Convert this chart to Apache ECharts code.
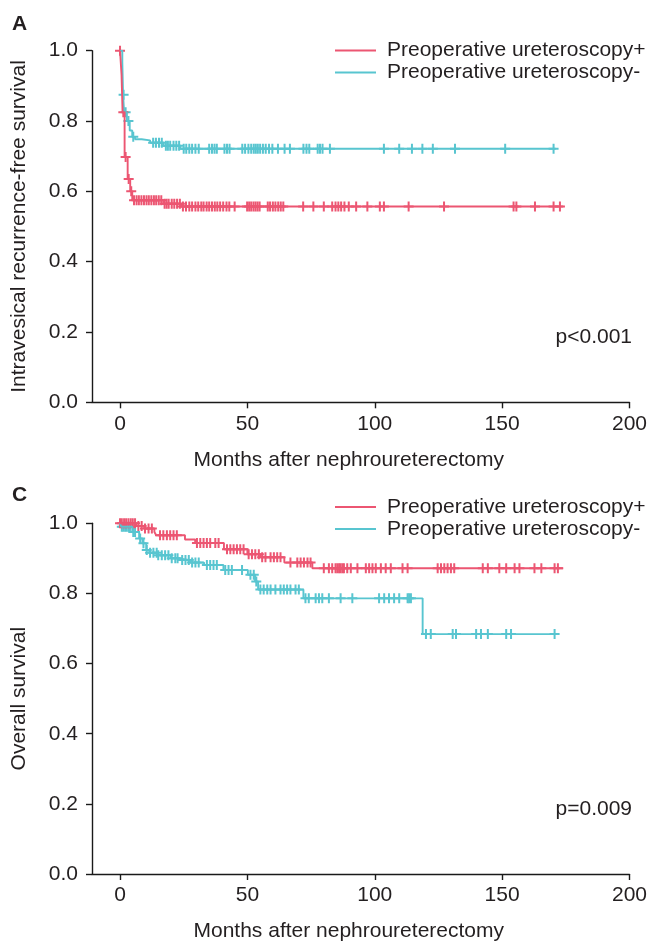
<!DOCTYPE html>
<html>
<head>
<meta charset="utf-8">
<script src="https://cdn.jsdelivr.net/npm/echarts@6/dist/echarts.min.js"></script>
<style>
html,body{margin:0;padding:0;background:#fff;}
#chart{width:650px;height:943px;}
</style>
</head>
<body>
<div id="chart"></div>
<script>
// ---------- DATA ----------
const seriesNames = ['Preoperative ureteroscopy+', 'Preoperative ureteroscopy-'];
const xTickValues = [0, 50, 100, 150, 200];
const yTickValues = [0, 0.2, 0.4, 0.6, 0.8, 1.0];

// Panel A: intravesical recurrence-free survival
const aPlusTimes = [0, 0.6, 1.0, 1.8, 3.0, 4.0, 4.8, 17, 24, 174];
const aPlusSurv  = [1.0, 0.932, 0.825, 0.698, 0.635, 0.600, 0.575, 0.565, 0.557, 0.557];
const aPlusCensor = [0, 1.3, 2.2, 3.4, 4.4, 5.5, 6.5, 7.4, 8.4, 9.4, 10.4, 11.3, 12.3, 13.3, 14.2, 15.2, 16.2,
  17.5, 18.3, 19.1, 20.3, 21.3, 22.4, 23.5, 24.7, 25.9, 27.2, 28.3, 29.6, 30.7, 31.9, 32.8, 34, 35, 36.1, 37.2,
  38.2, 39.3, 40.5, 41.8, 42.9, 45, 49.9, 50.7, 51.5, 52.4, 53.2, 54, 54.8, 58, 58.9, 60, 61, 62.1, 63.1, 64.1,
  71.9, 75.9, 80, 83.3, 84.6, 85.7, 86.8, 88.1, 89.8, 92.7, 97.1, 102, 103.6, 113.3, 127.2, 154.5, 155.6, 162.9,
  170.2, 172.7];

const aMinusTimes = [0, 0.9, 1.2, 1.6, 2.7, 3.8, 4.8, 5.9, 8.5, 11.8, 17, 23.6, 171];
const aMinusSurv  = [1.0, 0.968, 0.875, 0.825, 0.800, 0.773, 0.755, 0.748, 0.745, 0.738, 0.730, 0.721, 0.721];
const aMinusCensor = [1.4, 2.2, 3.3, 5.2, 13, 14.1, 15.3, 16.4, 18, 18.8, 19.7, 21, 22.1, 23.2, 25, 26, 27.2, 28.3,
  29.6, 30.9, 35, 36.1, 37.1, 38, 41, 42, 43, 48, 49.1, 50.4, 51.5, 52.5, 53.3, 54.1, 55, 56.1, 57.2, 58.5, 59.8,
  62, 64.6, 66.7, 72, 73.2, 74.3, 77.6, 78.5, 79.5, 82.4, 103.6, 109.6, 114.6, 118.7, 122.8, 131.5, 151.2, 170.2];

// Panel C: overall survival
const cPlusTimes = [0, 6.3, 9.5, 13.5, 14.2, 25.5, 29.5, 40.8, 50, 55.2, 64.5, 75.5, 174];
const cPlusSurv  = [1.0, 0.992, 0.985, 0.975, 0.966, 0.954, 0.944, 0.926, 0.912, 0.903, 0.888, 0.872, 0.872];
const cPlusCensor = [0, 0.7, 1.6, 2.4, 3.3, 4.2, 5, 5.9, 7.2, 8.5, 9.8, 11.2, 12.5, 15.7, 17, 18.4, 19.7, 21, 22.3,
  30.2, 31.5, 32.8, 34.1, 35.4, 37.4, 38.7, 42, 43.3, 44.6, 45.9, 47.2, 48.5, 50.5, 51.8, 53.1, 54.5, 55.8, 57.1,
  59.1, 60.4, 61.7, 63, 66.9, 69.6, 70.9, 72.2, 73.6, 74.8, 80, 82, 83.3, 84.6, 85.3, 86, 86.6, 87.3, 87.9, 89.2,
  90.6, 93.2, 96.5, 97.8, 99.1, 100.4, 102.4, 104.3, 106.3, 110.9, 112.9, 124.7, 126, 127.3, 128.6, 129.9, 131.2,
  142.4, 144.4, 148.9, 151.6, 154.9, 156.8, 162.7, 165.4, 170.6, 171.9];

const cMinusTimes = [0, 0.5, 4.8, 7.5, 8.8, 10.3, 11.5, 14.8, 20, 23.3, 27.6, 33, 40.6, 50.2, 53, 54.2, 72, 118.8, 172];
const cMinusSurv  = [1.0, 0.990, 0.975, 0.957, 0.943, 0.924, 0.916, 0.909, 0.900, 0.895, 0.888, 0.881, 0.867, 0.853,
  0.834, 0.811, 0.786, 0.684, 0.684];
const cMinusCensor = [0.7, 1.3, 2, 2.6, 3.3, 3.9, 5.2, 5.9, 7.9, 9.2, 10.5, 11.8, 13.1, 14.4, 15, 16.4, 17.7, 19,
  20.3, 21.7, 22.6, 24.4, 25.7, 27, 28.3, 29.6, 30.9, 34.1, 35.4, 36.7, 38, 41.3, 42.6, 43.9, 47.9, 51.2, 52.5,
  53.5, 55.1, 56.4, 57.8, 59.1, 61, 63, 64.3, 65.6, 66.9, 68.9, 70.2, 72.8, 74.1, 76.8, 78.1, 79.4, 82, 86.6, 91.2,
  101.7, 103.7, 105.6, 107.6, 109.6, 112.9, 113.5, 114.2, 120.1, 122, 130.6, 131.9, 139.8, 141.7, 144.4, 151.6,
  153.5, 170.6];

// ---------- HELPERS ----------
const RED = '#ec5672';
const CYAN = '#58c5d0';
const TXT = '#231f20';
const FONT = '"Liberation Sans", Arial, Helvetica, sans-serif';
const plusPath = 'path://M4,0h2v4h4v2h-4v4h-2v-4h-4v-2h4z';

function pairs(ts, ss) { return ts.map((t, i) => [t, ss[i]]); }
function survAt(ts, ss, t) {
  let s = ss[0];
  for (let i = 0; i < ts.length; i++) if (ts[i] <= t) s = ss[i];
  return s;
}
function censorPts(ts, ss, cs) { return cs.map(t => [t, survAt(ts, ss, t)]); }

function curveSeries(name, color, idx, ts, ss) {
  return {
    name: name, type: 'line', step: 'end', xAxisIndex: idx, yAxisIndex: idx,
    data: pairs(ts, ss), showSymbol: false, symbol: 'none',
    lineStyle: { color: color, width: 1.9 }, itemStyle: { color: color },
    animation: false, silent: true
  };
}
function censorSeries(name, color, idx, ts, ss, cs) {
  return {
    name: name, type: 'scatter', xAxisIndex: idx, yAxisIndex: idx,
    data: censorPts(ts, ss, cs), symbol: plusPath, symbolSize: [10, 10],
    itemStyle: { color: color, opacity: 1 }, animation: false, silent: true
  };
}

function xAxisDef(idx) {
  return {
    gridIndex: idx, type: 'value', min: -11, max: 200,
    name: 'Months after nephroureterectomy', nameLocation: 'middle', nameGap: 47,
    nameTextStyle: { fontSize: 21, color: TXT, fontFamily: FONT, padding: [0, 24, 0, 0] },
    axisLine: { show: true, onZero: false, lineStyle: { color: '#1a1a1a', width: 1.4 } },
    axisTick: { show: true, length: 6, customValues: xTickValues, lineStyle: { color: '#1a1a1a', width: 1.4 } },
    axisLabel: { customValues: xTickValues, fontSize: 21, color: TXT, fontFamily: FONT, margin: 11 },
    splitLine: { show: false }
  };
}
function yAxisDef(idx, title) {
  return {
    gridIndex: idx, type: 'value', min: 0, max: 1, interval: 0.2,
    name: title, nameLocation: 'middle', nameGap: 62,
    nameTextStyle: { fontSize: 21, color: TXT, fontFamily: FONT },
    axisLine: { show: true, onZero: false, lineStyle: { color: '#1a1a1a', width: 1.4 } },
    axisTick: { show: true, length: 6, lineStyle: { color: '#1a1a1a', width: 1.4 } },
    axisLabel: { fontSize: 21, color: TXT, fontFamily: FONT, margin: 14, formatter: v => v.toFixed(1) },
    splitLine: { show: false }
  };
}
function legendDef(top) {
  return {
    orient: 'vertical', left: 335, top: top, padding: 0, itemGap: 0,
    itemWidth: 41, itemHeight: 2, icon: 'rect',
    data: seriesNames.map(n => ({ name: n, icon: 'rect' })),
    textStyle: { fontSize: 21, color: TXT, fontFamily: FONT, lineHeight: 22, padding: [0, 0, 0, 6] },
    selectedMode: false
  };
}

const chart = echarts.init(document.getElementById('chart'), null, { renderer: 'canvas' });
chart.setOption({
  backgroundColor: '#ffffff',
  animation: false,
  textStyle: { fontFamily: FONT },
  grid: [
    { left: 92, top: 50.7, width: 539.5, height: 351.6 },
    { left: 92, top: 523.3, width: 539.5, height: 352.5 }
  ],
  xAxis: [xAxisDef(0), xAxisDef(1)],
  yAxis: [yAxisDef(0, 'Intravesical recurrence-free survival'), yAxisDef(1, 'Overall survival')],
  legend: [legendDef(39.5), legendDef(496)],
  graphic: [
    { type: 'text', left: 12, top: 14, style: { text: 'A', fontSize: 21, fontWeight: 'bold', fill: TXT, fontFamily: FONT } },
    { type: 'text', left: 12, top: 485, style: { text: 'C', fontSize: 21, fontWeight: 'bold', fill: TXT, fontFamily: FONT } },
    { type: 'text', right: 18, top: 327, style: { text: 'p<0.001', fontSize: 21, fill: TXT, fontFamily: FONT } },
    { type: 'text', right: 18, top: 799, style: { text: 'p=0.009', fontSize: 21, fill: TXT, fontFamily: FONT } }
  ],
  series: [
    curveSeries(seriesNames[1], CYAN, 0, aMinusTimes, aMinusSurv),
    censorSeries(seriesNames[1], CYAN, 0, aMinusTimes, aMinusSurv, aMinusCensor),
    curveSeries(seriesNames[0], RED, 0, aPlusTimes, aPlusSurv),
    censorSeries(seriesNames[0], RED, 0, aPlusTimes, aPlusSurv, aPlusCensor),
    curveSeries(seriesNames[1], CYAN, 1, cMinusTimes, cMinusSurv),
    censorSeries(seriesNames[1], CYAN, 1, cMinusTimes, cMinusSurv, cMinusCensor),
    curveSeries(seriesNames[0], RED, 1, cPlusTimes, cPlusSurv),
    censorSeries(seriesNames[0], RED, 1, cPlusTimes, cPlusSurv, cPlusCensor)
  ]
});
</script>
</body>
</html>
